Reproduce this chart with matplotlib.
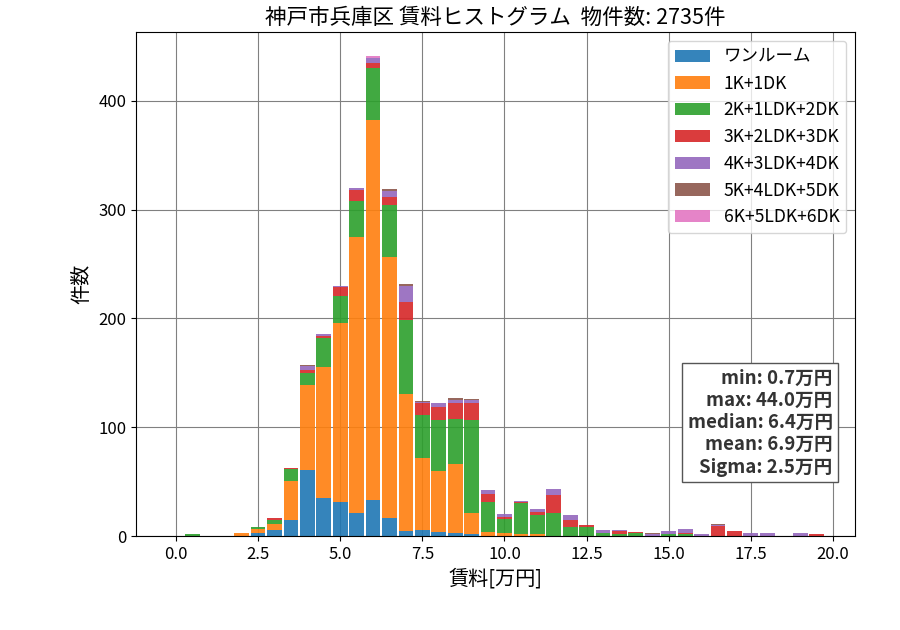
import numpy as np
import matplotlib
matplotlib.use("Agg")
import matplotlib.pyplot as plt

plt.rcParams['font.family'] = ['Noto Sans CJK JP', 'DejaVu Sans']

centers = np.arange(40) * 0.5

labels = ["ワンルーム", "1K+1DK", "2K+1LDK+2DK", "3K+2LDK+3DK",
          "4K+3LDK+4DK", "5K+4LDK+5DK", "6K+5LDK+6DK"]

one_room = [0, 0, 0, 0, 0, 3, 6, 15, 61, 35, 31, 21, 33, 17, 5, 6, 4, 3, 2, 0,
            0, 0, 0, 0, 0, 0, 0, 0, 0, 0, 0, 0, 0, 0, 0, 0, 0, 0, 0, 0]
k1 = [0, 0, 0, 0, 3, 4, 5, 36, 78, 120, 165, 254, 349, 239, 126, 66, 56, 63, 19, 4,
      3, 2, 2, 0, 0, 0, 0, 0, 0, 0, 0, 0, 0, 0, 0, 0, 0, 0, 0, 0]
k2 = [0, 2, 0, 0, 0, 1, 4, 11, 11, 27, 25, 33, 48, 48, 68, 39, 47, 42, 86, 27,
      13, 28, 17, 21, 8, 8, 3, 2, 3, 0, 2, 2, 0, 0, 0, 0, 0, 0, 0, 0]
k3 = [0, 0, 0, 0, 0, 0, 2, 1, 3, 2, 8, 10, 5, 8, 16, 11, 12, 14, 15, 8,
      2, 1, 3, 17, 7, 2, 0, 3, 1, 0, 0, 1, 0, 9, 5, 0, 0, 0, 0, 2]
k4 = [0, 0, 0, 0, 0, 0, 0, 0, 3, 2, 1, 2, 4, 5, 15, 1, 3, 3, 3, 3,
      2, 1, 3, 5, 4, 0, 3, 1, 0, 2, 3, 4, 2, 1, 0, 3, 3, 0, 3, 0]
k5 = [0, 0, 0, 0, 0, 0, 0, 0, 1, 0, 0, 0, 0, 2, 2, 1, 0, 2, 1, 0,
      0, 0, 0, 0, 0, 0, 0, 0, 0, 1, 0, 0, 0, 1, 0, 0, 0, 0, 0, 0]
k6 = [0, 0, 0, 0, 0, 0, 0, 0, 0, 0, 0, 0, 2, 0, 0, 0, 0, 0, 0, 0,
      0, 0, 0, 0, 0, 0, 0, 0, 0, 0, 0, 0, 0, 0, 0, 0, 0, 0, 0, 0]

series = [one_room, k1, k2, k3, k4, k5, k6]
colors = ['#1f77b4', '#ff7f0e', '#2ca02c', '#d62728', '#9467bd', '#8c564b', '#e377c2']

stats_text = "min: 0.7万円\nmax: 44.0万円\nmedian: 6.4万円\nmean: 6.9万円\nSigma: 2.5万円"

fig = plt.figure(figsize=(9, 6.3), dpi=100)
ax = fig.add_axes([0.151, 0.149, 0.799, 0.8])
ax.set_axisbelow(True)
ax.grid(True, color='gray', linewidth=0.8)

bottom = np.zeros(len(centers))
for vals, lab, col in zip(series, labels, colors):
    v = np.array(vals, dtype=float)
    ax.bar(centers, v, width=0.45, bottom=bottom, color=col, alpha=0.9, label=lab)
    bottom += v

ax.set_xticks([0, 2.5, 5, 7.5, 10, 12.5, 15, 17.5, 20])
ax.set_yticks([0, 100, 200, 300, 400])
ax.tick_params(labelsize=12)
ax.set_xlim(-1.22, 20.67)
ax.set_ylim(0, 463)
ax.set_xlabel("賃料[万円]", fontsize=14.5)
ax.set_ylabel("件数", fontsize=14.5)
ax.set_title("神戸市兵庫区 賃料ヒストグラム  物件数: 2735件", fontsize=15.5)
ax.legend(loc='upper right', fontsize=12.6)
ax.text(0.969, 0.118, stats_text, transform=ax.transAxes, ha='right', va='bottom',
        fontsize=13.4, fontweight='bold', color='#333333', linespacing=1.22,
        bbox=dict(boxstyle='square,pad=0.3', facecolor='white', edgecolor='#555555'))

fig.savefig("out.png", dpi=100)
